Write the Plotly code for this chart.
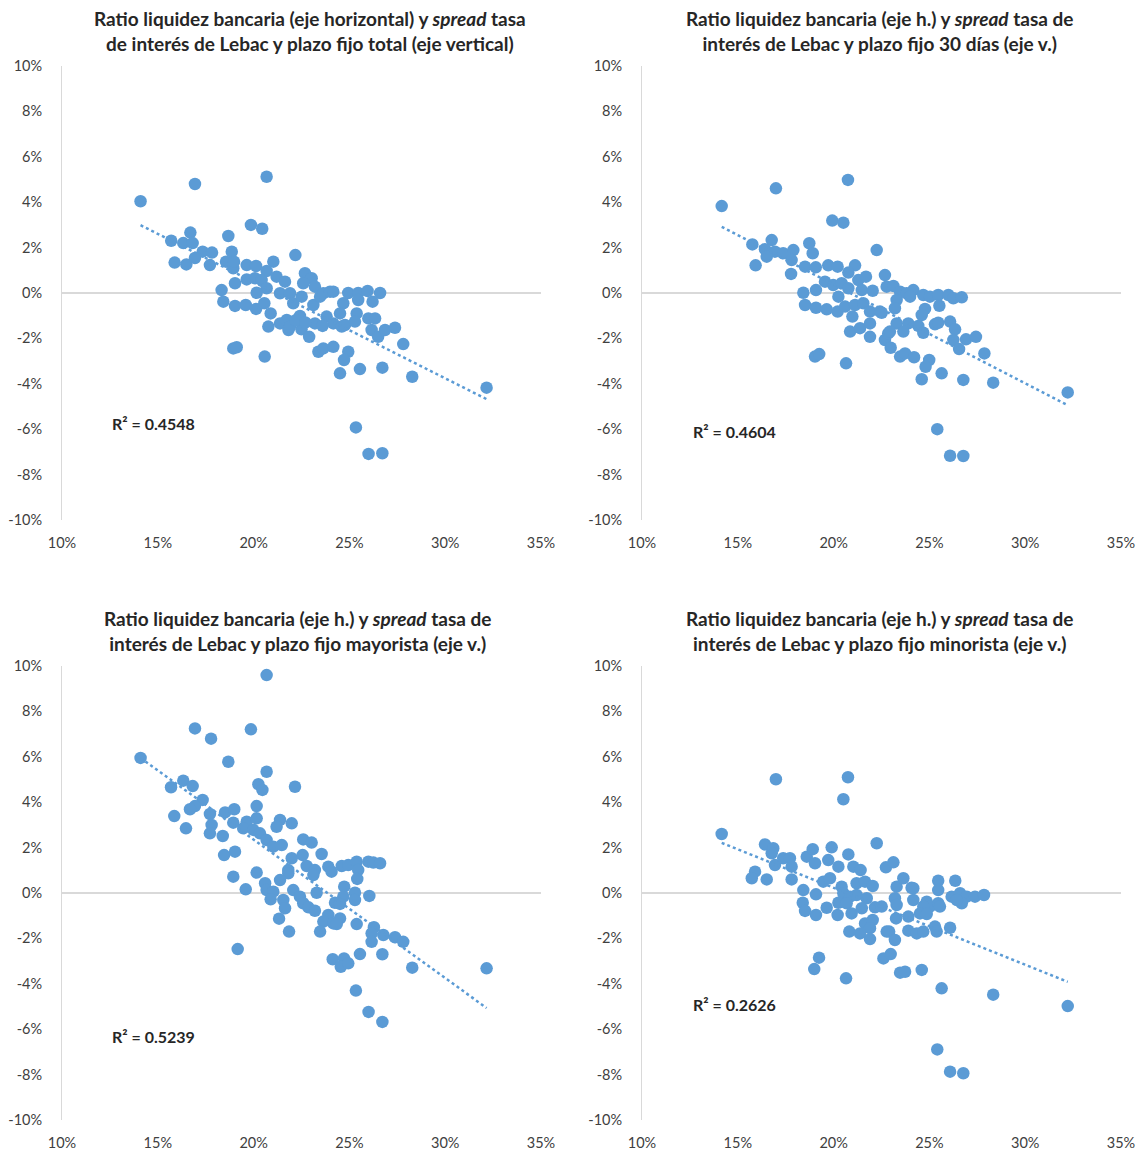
import numpy as np
import plotly.graph_objects as go

# Liquidity ratio (%) vs. spread Lebac rate minus fixed-term deposit rate (pp)
x_total = [14.1, 16.94, 20.68, 19.86, 20.45, 16.7, 15.7, 16.33, 16.82, 18.68, 22.18, 17.34, 17.83, 18.86,
           15.88, 16.49, 16.94, 17.72, 18.56, 18.94, 18.98, 19.64, 20.13, 21.03, 20.68, 19.03, 19.64, 20.07,
           20.42, 20.68, 20.16, 18.33, 18.42, 19.03, 19.59, 20.13, 20.56, 21.2, 21.64, 21.38, 21.9, 22.07,
           20.89, 20.77, 21.38, 21.82, 21.73, 18.94, 19.12, 20.58, 22.68, 23.03, 22.59, 23.2, 22.51, 23.12,
           23.47, 23.64, 23.99, 24.16, 24.94, 25.46, 25.95, 26.6, 24.68, 25.46, 26.21, 22.42, 21.9, 22.5,
           22.9, 23.2, 23.81, 24.16, 24.51, 24.6, 24.77, 25.38, 25.29, 25.99, 26.34, 26.16, 26.5, 26.86,
           27.38, 27.81, 23.38, 23.64, 24.16, 24.94, 24.72, 24.51, 25.55, 26.72, 28.28, 32.16, 25.34, 26.0,
           26.72, 22.2, 22.7, 23.6]
y_total = [4.04, 4.8, 5.12, 3.0, 2.83, 2.66, 2.3, 2.2, 2.2, 2.51, 1.67, 1.82, 1.78, 1.82,
           1.34, 1.26, 1.54, 1.23, 1.38, 1.09, 1.38, 1.23, 1.19, 1.38, 0.97, 0.43, 0.6, 0.65,
           0.57, 0.21, 0.01, 0.13, -0.38, -0.57, -0.53, -0.7, -0.45, 0.72, 0.5, -0.01, -0.01, -0.45,
           -0.9, -1.48, -1.34, -1.63, -1.19, -2.44, -2.39, -2.8, 0.87, 0.65, 0.43, 0.28, -0.16, -0.53,
           -0.16, -0.01, 0.06, 0.06, 0.0, 0.0, 0.09, 0.0, -0.45, -0.31, -0.38, -1.01, -1.48, -1.6,
           -1.93, -1.34, -1.04, -1.34, -0.9, -1.48, -1.41, -0.9, -1.26, -1.12, -1.12, -1.63, -1.93, -1.63,
           -1.53, -2.25, -2.59, -2.44, -2.37, -2.59, -2.95, -3.54, -3.35, -3.29, -3.69, -4.17, -5.92, -7.09,
           -7.06, -1.2, -1.3, -1.45]

x_30d = [14.16, 16.99, 20.75, 19.93, 20.51, 15.76, 16.77, 16.42, 16.94, 16.51, 17.37, 17.9, 17.81, 18.73,
         18.91, 15.93, 17.78, 18.51, 19.07, 19.72, 20.21, 21.12, 22.25, 20.77, 19.55, 19.98, 20.42, 20.77,
         21.29, 21.69, 21.47, 18.42, 19.08, 20.25, 22.04, 22.68, 22.77, 18.51, 19.08, 19.64, 20.21, 20.6,
         21.12, 21.55, 21.9, 22.42, 20.98, 20.86, 21.38, 21.9, 21.9, 22.68, 22.85, 19.03, 19.25, 20.65,
         23.12, 23.47, 23.81, 24.16, 23.29, 23.99, 24.68, 25.03, 25.46, 25.99, 26.25, 26.69, 25.52, 22.51,
         23.2, 24.77, 24.6, 23.29, 23.9, 24.42, 24.68, 25.29, 25.46, 26.08, 26.34, 22.94, 23.64, 26.25,
         26.91, 27.43, 26.55, 27.87, 22.98, 23.47, 23.73, 24.2, 24.99, 24.8, 24.6, 25.64, 26.77, 28.33,
         32.22, 25.41, 26.08, 26.77]
y_30d = [3.83, 4.61, 4.98, 3.19, 3.1, 2.14, 2.33, 1.93, 1.82, 1.6, 1.75, 1.89, 1.45, 2.19,
         1.75, 1.22, 0.84, 1.16, 1.13, 1.22, 1.16, 1.22, 1.89, 0.9, 0.5, 0.35, 0.43, 0.21,
         0.57, 0.72, 0.13, 0.01, 0.13, -0.16, 0.1, 0.79, 0.28, -0.53, -0.65, -0.72, -0.82, -0.6,
         -0.53, -0.45, -0.82, -0.82, -1.04, -1.7, -1.55, -1.34, -1.93, -2.07, -1.78, -2.8, -2.69, -3.1,
         0.31, 0.06, -0.01, 0.13, -0.31, -0.16, -0.09, -0.16, -0.09, -0.09, -0.23, -0.19, -0.56, -0.87,
         -0.67, -0.7, -0.97, -1.34, -1.34, -1.45, -1.75, -1.38, -1.31, -1.26, -1.6, -1.7, -1.7, -2.07,
         -2.04, -1.93, -2.47, -2.66, -2.41, -2.8, -2.66, -2.83, -2.95, -3.25, -3.8, -3.54, -3.83, -3.95,
         -4.38, -6.0, -7.17, -7.18]

x_mayorista = [14.1, 16.94, 17.78, 19.86, 20.68, 18.68, 20.68, 20.25, 20.46, 22.16, 16.33, 16.82, 15.69, 15.86,
               16.47, 17.34, 16.94, 16.68, 17.72, 17.81, 17.72, 18.39, 18.51, 18.99, 18.94, 19.64, 20.16, 20.16,
               19.46, 19.99, 20.33, 20.68, 21.03, 21.47, 21.38, 21.2, 21.99, 18.46, 19.03, 21.99, 21.81, 21.81,
               18.94, 20.16, 19.59, 20.6, 21.38, 20.68, 21.03, 20.89, 21.55, 21.64, 21.33, 21.85, 22.07, 22.42,
               19.17, 22.59, 23.03, 22.56, 23.55, 22.77, 23.2, 23.12, 23.9, 24.07, 24.6, 24.94, 25.38, 25.99,
               26.25, 26.6, 25.46, 25.41, 24.73, 23.29, 25.29, 26.04, 24.68, 24.25, 24.51, 25.29, 22.59, 22.86,
               23.2, 23.9, 23.64, 24.16, 24.51, 24.34, 23.47, 25.38, 26.28, 26.16, 26.16, 26.77, 27.38, 27.81,
               24.13, 24.72, 24.55, 24.94, 25.55, 26.72, 28.28, 32.16, 25.34, 26.0, 26.72]
y_mayorista = [5.95, 7.25, 6.8, 7.21, 9.6, 5.78, 5.34, 4.79, 4.54, 4.68, 4.95, 4.71, 4.66, 3.39,
               2.85, 4.1, 3.83, 3.69, 3.48, 3.0, 2.63, 2.51, 3.55, 3.69, 3.1, 3.14, 3.29, 3.83,
               2.85, 2.78, 2.63, 2.33, 2.04, 2.11, 3.22, 2.92, 3.07, 1.67, 1.82, 1.53, 1.01, 0.87,
               0.72, 0.9, 0.16, 0.43, 0.57, 0.13, 0.06, -0.28, -0.31, -0.67, -1.13, -1.7, 0.13, -0.16,
               -2.47, 2.36, 2.22, 1.67, 1.72, 1.19, 1.01, 0.79, 1.16, 0.94, 1.19, 1.23, 1.38, 1.38,
               1.34, 1.31, 1.01, 0.62, 0.28, 0.01, 0.01, -0.13, -0.16, -0.43, -0.48, -0.31, -0.45, -0.63,
               -0.78, -0.97, -1.26, -1.34, -1.12, -1.37, -1.7, -1.37, -1.51, -1.78, -2.15, -1.85, -1.95, -2.15,
               -2.92, -2.88, -3.25, -3.1, -2.69, -2.7, -3.29, -3.32, -4.3, -5.24, -5.68]

x_minorista = [14.16, 16.99, 20.75, 20.51, 22.25, 16.42, 16.85, 16.77, 15.9, 15.73, 16.51, 16.94, 17.37, 17.72,
               17.81, 17.81, 18.6, 18.91, 19.03, 19.9, 20.77, 19.72, 20.25, 21.03, 21.41, 19.46, 19.81, 21.2,
               21.64, 22.04, 22.73, 18.42, 19.08, 20.42, 20.51, 20.86, 21.2, 21.73, 20.25, 20.68, 18.39, 18.51,
               19.08, 19.64, 20.21, 20.94, 21.47, 22.16, 22.51, 21.64, 22.04, 21.9, 20.82, 21.38, 21.9, 22.77,
               22.6, 19.24, 18.99, 20.65, 23.12, 23.29, 23.64, 24.07, 24.16, 25.46, 25.46, 26.35, 23.2, 23.29,
               24.16, 24.86, 25.03, 25.46, 25.55, 26.16, 26.6, 26.95, 27.38, 27.85, 26.69, 26.43, 24.68, 24.51,
               24.86, 23.9, 23.26, 23.9, 24.34, 24.68, 25.29, 25.38, 26.08, 22.9, 23.2, 22.98, 23.47, 23.73,
               24.6, 25.64, 28.33, 32.22, 25.41, 26.08, 26.77]
y_minorista = [2.6, 5.01, 5.1, 4.13, 2.19, 2.14, 1.97, 1.75, 0.94, 0.65, 0.6, 1.23, 1.53, 1.53,
               1.16, 0.6, 1.6, 1.93, 1.31, 2.01, 1.7, 1.45, 1.16, 1.16, 1.01, 0.5, 0.65, 0.43,
               0.5, 0.31, 1.13, 0.13, -0.06, 0.28, -0.01, -0.16, -0.09, -0.23, -0.43, -0.45, -0.43, -0.79,
               -0.97, -0.65, -0.97, -0.9, -0.67, -0.63, -0.6, -1.34, -1.19, -1.55, -1.7, -1.78, -2.03, -1.7,
               -2.88, -2.85, -3.35, -3.76, 1.35, 0.28, 0.65, 0.23, 0.21, 0.54, 0.13, 0.54, -0.23, -0.53,
               -0.31, -0.38, -0.6, -0.45, -0.6, -0.16, -0.01, -0.16, -0.16, -0.09, -0.45, -0.31, -0.6, -0.9,
               -0.93, -1.04, -1.12, -1.66, -1.78, -1.7, -1.48, -1.7, -1.53, -1.7, -2.07, -2.69, -3.51, -3.47,
               -3.39, -4.2, -4.48, -4.98, -6.89, -7.87, -7.94]

titles = [
    "Ratio liquidez bancaria (eje horizontal) y <i>spread</i> tasa<br>de interés de Lebac y plazo fijo total (eje vertical)",
    "Ratio liquidez bancaria (eje h.) y <i>spread</i> tasa de<br>interés de Lebac y plazo fijo 30 días (eje v.)",
    "Ratio liquidez bancaria (eje h.) y <i>spread</i> tasa de<br>interés de Lebac y plazo fijo mayorista (eje v.)",
    "Ratio liquidez bancaria (eje h.) y <i>spread</i> tasa de<br>interés de Lebac y plazo fijo minorista (eje v.)",
]
r2_values = ["0.4548", "0.4604", "0.5239", "0.2626"]
x_ticks = [10, 15, 20, 25, 30, 35]
y_ticks = [-10, -8, -6, -4, -2, 0, 2, 4, 6, 8, 10]

series = [(x_total, y_total), (x_30d, y_30d), (x_mayorista, y_mayorista), (x_minorista, y_minorista)]

W, H = 1144, 1155
BLUE = "#5B9BD5"
FONT = "Lato"

# panel plot areas in pixels: (left, right, top, bottom)
areas = [(62, 541, 66, 520), (642, 1121, 66, 520), (62, 541, 666, 1120), (642, 1121, 666, 1120)]
title_cx = [310, 879, 297, 879]
title_top = [5, 5, 605, 605]
r2_pos = [(12.5, -5.73), (12.56, -6.08), (12.5, -6.3), (12.56, -4.89)]

fig = go.Figure()
layout = dict(width=W, height=H, margin=dict(l=0, r=0, t=0, b=0, autoexpand=False),
              paper_bgcolor="white", plot_bgcolor="white", showlegend=False,
              font=dict(family=FONT, size=14, color="#404040"))
annotations = []

for i, ((xs, ys), (l, r, t, b)) in enumerate(zip(series, areas)):
    n = "" if i == 0 else str(i + 1)
    xa, ya = "x" + n, "y" + n

    fig.add_trace(go.Scatter(x=xs, y=ys, mode="markers", xaxis=xa, yaxis=ya,
                             marker=dict(size=12.5, color=BLUE, line=dict(width=0))))

    # linear trend over the observed range
    slope, intercept = np.polyfit(xs, ys, 1)
    xt = np.array([min(xs), max(xs)])
    fig.add_trace(go.Scatter(x=xt, y=slope * xt + intercept, mode="lines", xaxis=xa, yaxis=ya,
                             line=dict(color=BLUE, width=2.5, dash="dot"), hoverinfo="skip"))

    layout["xaxis" + n] = dict(domain=[l / W, r / W], anchor=ya, range=[10, 35], automargin=False,
                               tickvals=x_ticks, ticktext=[f"{v}%" for v in x_ticks],
                               showgrid=False, zeroline=False, showline=False, ticks="",
                               ticklabelstandoff=12, tickfont=dict(size=14.5, color="#404040"))
    layout["yaxis" + n] = dict(domain=[1 - b / H, 1 - t / H], anchor=xa, range=[-10, 10], automargin=False,
                               tickvals=y_ticks, ticktext=[f"{v}%" for v in y_ticks],
                               showgrid=False, zeroline=True, zerolinecolor="#D9D9D9", zerolinewidth=1.5,
                               showline=True, linecolor="#D9D9D9", linewidth=1, ticks="",
                               ticklabelstandoff=16, tickfont=dict(size=14.5, color="#404040"))

    annotations.append(dict(text=f"<b>{titles[i]}</b>", x=title_cx[i] / W, y=1 - title_top[i] / H,
                            xref="paper", yref="paper", xanchor="center", yanchor="top",
                            showarrow=False, align="center",
                            font=dict(family=FONT, size=19, color="#262626")))
    annotations.append(dict(text=f"<b>R² = {r2_values[i]}</b>", x=r2_pos[i][0], y=r2_pos[i][1],
                            xref=xa, yref=ya, xanchor="left", yanchor="middle", showarrow=False,
                            font=dict(family=FONT, size=16, color="#262626")))

layout["annotations"] = annotations
fig.update_layout(**layout)
fig.write_html("out.html")
